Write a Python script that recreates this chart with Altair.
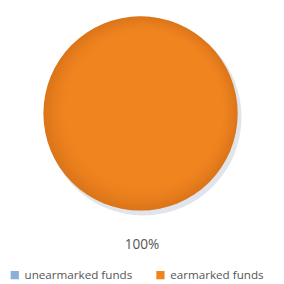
import altair as alt
import pandas as pd

categories = ["unearmarked funds", "earmarked funds"]
values = [0, 100]
colors = ["#8AAFDB", "#F0841F"]
label_text = ["100%"]

df = pd.DataFrame({"category": categories, "value": values})
one = pd.DataFrame({"v": [1]})

CX, CY, R = 136.5, 104.5, 100
FULL = 6.2831853

shadow = alt.Chart(one).mark_arc(
    outerRadius=R + 1, theta=0, theta2=FULL, color="#aab3c2", opacity=0.35, stroke=None
).encode(x=alt.value(CX + 3), y=alt.value(CY + 4))

pie = alt.Chart(df).mark_arc(outerRadius=R, stroke=None).encode(
    theta=alt.Theta("value:Q", stack=True),
    color=alt.Color(
        "category:N",
        sort=categories,
        scale=alt.Scale(domain=categories, range=colors),
        legend=alt.Legend(
            title=None,
            orient="none",
            legendX=1,
            legendY=265,
            direction="horizontal",
            symbolType="square",
            symbolSize=72,
            symbolStrokeWidth=0,
            labelFontSize=12,
            labelFont="Open Sans",
            labelColor="#555555",
            columnPadding=22,
            labelOffset=4,
        ),
    ),
    order=alt.Order("category:N", sort="descending"),
    x=alt.value(CX),
    y=alt.value(CY),
)

shade = alt.Chart(one).mark_arc(
    outerRadius=R,
    theta=0,
    theta2=FULL,
    stroke=None,
    fill={
        "gradient": "radial",
        "x1": 0.6, "y1": 0.4, "r1": 0.0,
        "x2": 0.5, "y2": 0.5, "r2": 0.5,
        "stops": [
            {"offset": 0.0, "color": "rgba(255,170,90,0.0)"},
            {"offset": 0.8, "color": "rgba(200,100,20,0.0)"},
            {"offset": 1.0, "color": "rgba(160,75,10,0.28)"},
        ],
    },
).encode(x=alt.value(CX), y=alt.value(CY))

lbl = alt.Chart(pd.DataFrame({"t": label_text})).mark_text(
    fontSize=14, font="Open Sans", color="#555555"
).encode(text="t:N", x=alt.value(138), y=alt.value(240))

chart = alt.layer(shadow, pie, shade, lbl).properties(
    width=276, height=276, padding=0, autosize=alt.AutoSizeParams(type="none")
).configure_view(stroke=None)

chart.save("out.html", embed_options={"renderer": "svg", "actions": False})
